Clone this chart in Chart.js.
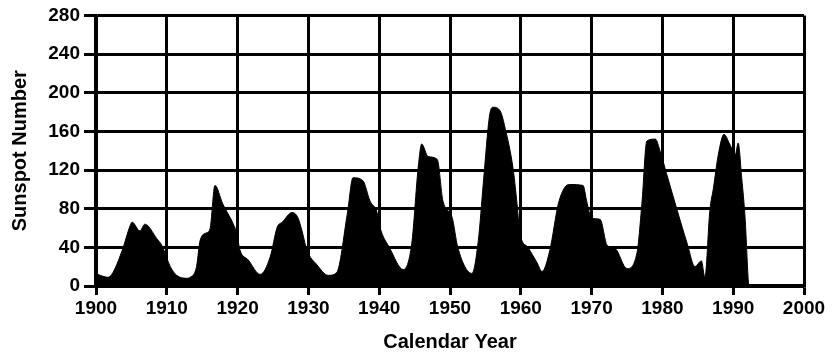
<!DOCTYPE html>
<html lang="en">
<head>
    <meta charset="UTF-8">
    <title>Sunspot Number</title>
    <script src="https://cdn.jsdelivr.net/npm/chart.js"></script>
    <style>
        body {
            margin: 0;
            background: #fff;
        }
        canvas { display: block; }
    </style>
</head>
<body>
<canvas id="sunspots" width="837" height="357"></canvas>

<script>
// values (year, sunspot number)
const years = [
    1900.0, 1900.6, 1901.7, 1902.4, 1903.8, 1904.8, 1905.1, 1906.2, 1906.9, 1908.6,
    1909.3, 1910.5, 1911.4, 1912.8, 1913.3, 1914.2, 1914.7, 1915.6, 1916.1, 1916.8,
    1917.9, 1919.4, 1919.9, 1920.3, 1921.5, 1923.2, 1924.6, 1925.6, 1926.3, 1927.7,
    1928.5, 1929.1, 1929.8, 1931.2, 1932.8, 1934.0, 1935.5, 1936.3, 1937.7, 1938.7,
    1939.7, 1940.1, 1941.5, 1943.4, 1944.6, 1945.5, 1946.0, 1946.9, 1948.2, 1949.0,
    1950.3, 1951.1, 1953.1, 1954.0, 1954.7, 1955.6, 1956.1, 1957.1, 1957.8, 1958.9,
    1959.4, 1959.9, 1961.0, 1962.3, 1963.0, 1964.1, 1965.3, 1966.2, 1966.9, 1968.8,
    1969.3, 1970.0, 1971.2, 1972.2, 1973.3, 1975.0, 1976.4, 1977.1, 1977.8, 1979.0,
    1979.7, 1980.6, 1982.1, 1983.5, 1984.6, 1985.5, 1986.0, 1986.7, 1987.2, 1987.9,
    1988.7, 1989.5, 1990.3, 1990.7, 1991.2, 1991.7, 1992.1, 1992.2
];
const sunspots = [
    13, 11, 9, 14, 39, 62, 66, 57, 64, 49,
    42, 20, 11, 8, 9, 20, 47, 55, 59, 104,
    85, 64, 54, 38, 27, 12, 30, 61, 66, 76,
    71, 57, 37, 22, 11, 14, 75, 112, 109, 88,
    76, 61, 39, 17, 44, 122, 147, 134, 131, 88,
    71, 40, 13, 47, 106, 177, 185, 181, 163, 122,
    90, 54, 40, 24, 15, 37, 85, 102, 105, 104,
    88, 70, 69, 42, 39, 18, 34, 85, 150, 152,
    139, 116, 78, 44, 20, 26, 9, 78, 101, 136,
    157, 147, 136, 148, 112, 68, 9, 0
];
const xTicks = [1900, 1910, 1920, 1930, 1940, 1950, 1960, 1970, 1980, 1990, 2000];
const yTicks = [0, 40, 80, 120, 160, 200, 240, 280];

const points = years.map((yr, i) => ({ x: yr, y: sunspots[i] }));
const tickFont = { family: "'Liberation Sans', Arial, sans-serif", size: 19, weight: 'bold', lineHeight: 1.2 };
const titleFont = { family: "'Liberation Sans', Arial, sans-serif", size: 20, weight: 'bold', lineHeight: 1.2 };

new Chart(document.getElementById('sunspots'), {
    type: 'line',
    data: {
        datasets: [{
            data: points,
            borderColor: '#000',
            backgroundColor: '#000',
            borderWidth: 1,
            pointRadius: 0,
            fill: 'origin',
            cubicInterpolationMode: 'monotone'
        }]
    },
    options: {
        responsive: false,
        animation: false,
        devicePixelRatio: 1,
        layout: { padding: { left: 0, right: 33, top: 13, bottom: 0 } },
        plugins: {
            legend: { display: false },
            tooltip: { enabled: false }
        },
        scales: {
            x: {
                type: 'linear',
                min: xTicks[0],
                max: xTicks[xTicks.length - 1],
                afterBuildTicks: axis => { axis.ticks = xTicks.map(v => ({ value: v })); },
                afterFit: axis => { axis.height = 71; },
                grid: { color: '#000', lineWidth: 3, tickLength: 9 },
                border: { color: '#000', width: 3.5 },
                ticks: {
                    color: '#000',
                    font: tickFont,
                    padding: 2,
                    autoSkip: false,
                    maxRotation: 0,
                    callback: v => String(v)
                },
                title: {
                    display: true,
                    text: 'Calendar Year',
                    color: '#000',
                    font: titleFont,
                    padding: { top: 0, bottom: 3 }
                }
            },
            y: {
                min: yTicks[0],
                max: yTicks[yTicks.length - 1],
                afterBuildTicks: axis => { axis.ticks = yTicks.map(v => ({ value: v })); },
                afterFit: axis => { axis.width = 96; },
                grid: { color: '#000', lineWidth: 3, tickLength: 12 },
                border: { color: '#000', width: 3.5 },
                ticks: {
                    color: '#000',
                    font: tickFont,
                    padding: 4,
                    autoSkip: false,
                    callback: v => String(v)
                },
                title: {
                    display: true,
                    text: 'Sunspot Number',
                    color: '#000',
                    font: titleFont,
                    padding: { top: 8, bottom: 0 }
                }
            }
        }
    }
});
</script>
</body>
</html>
